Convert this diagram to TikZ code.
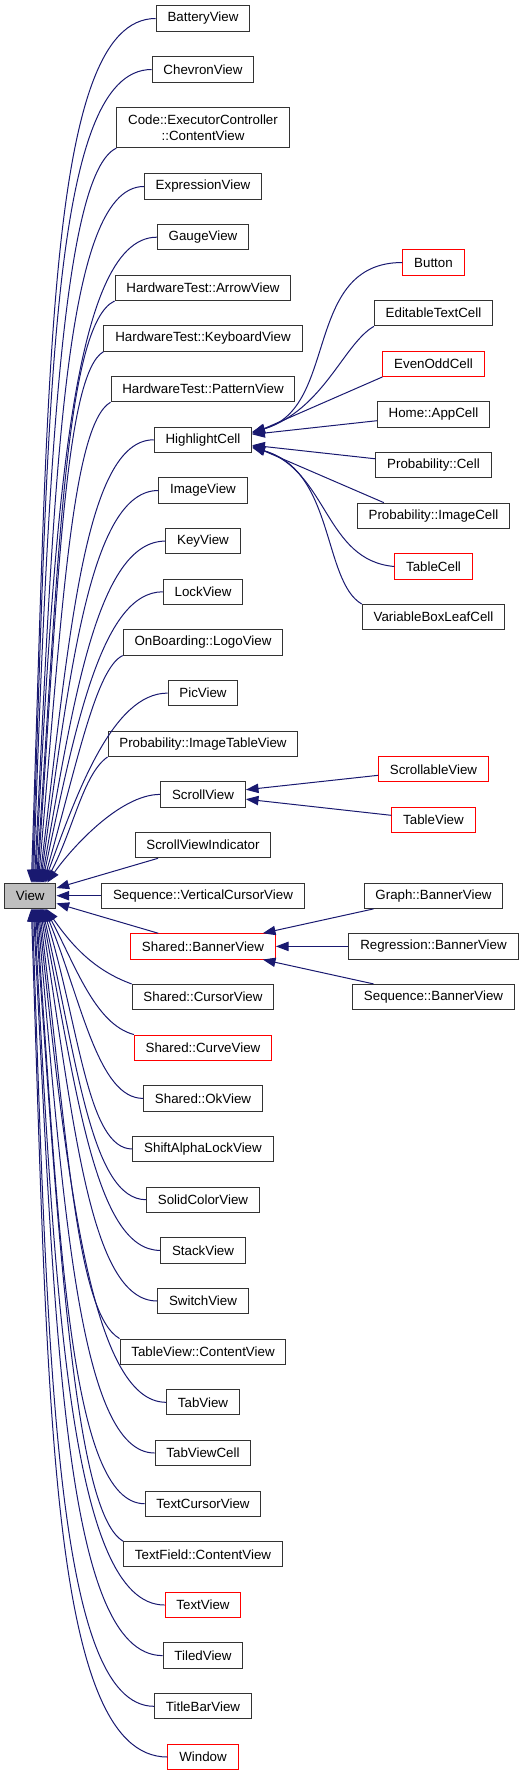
\documentclass[tikz,border=0pt]{standalone}
\usepackage{fontspec}
\setmainfont{Liberation Sans}
\usepackage{tikz}
\usetikzlibrary{arrows.meta,calc}
\definecolor{cE}{HTML}{191970}
\definecolor{cG}{HTML}{BFBFBF}
\definecolor{cR}{HTML}{FF0000}
\tikzset{
  cls/.style={draw=black!80,fill=white,line width=.75pt,minimum height=19pt,
              inner xsep=8.5pt,inner ysep=2pt,align=center,
              font=\fontsize{10}{11.5}\selectfont},
  clsred/.style={cls,draw=cR},
  base/.style={cls,fill=cG},
  inh/.style={-{Triangle[length=9.5pt,width=7pt]},line width=.75pt,cE},
}

\begin{document}
\begin{tikzpicture}[x=.75pt,y=.75pt]
  \useasboundingbox (0,0) rectangle (523,-1776);
  % base class
  \node[base] (view) at (30.3,-895.7) {View};
  % direct subclasses of View
  \node[cls] (battery) at (203,-18.5) {BatteryView};
  \node[cls] (chevron) at (203,-69.5) {ChevronView};
  \node[cls,minimum height=30pt] (code) at (203,-127.7) {Code::ExecutorController\\::ContentView};
  \node[cls] (expression) at (203,-186.5) {ExpressionView};
  \node[cls] (gauge) at (203,-237.2) {GaugeView};
  \node[cls] (hwarrow) at (203,-287.8) {HardwareTest::ArrowView};
  \node[cls] (hwkeyboard) at (203,-338.5) {HardwareTest::KeyboardView};
  \node[cls] (hwpattern) at (203,-389.1) {HardwareTest::PatternView};
  \node[cls] (highlight) at (203,-439.8) {HighlightCell};
  \node[cls] (image) at (203,-490.5) {ImageView};
  \node[cls] (key) at (203,-541.1) {KeyView};
  \node[cls] (lock) at (203,-591.8) {LockView};
  \node[cls] (logo) at (203,-642.4) {OnBoarding::LogoView};
  \node[cls] (pic) at (203,-693.1) {PicView};
  \node[cls] (imgtable) at (203,-743.8) {Probability::ImageTableView};
  \node[cls] (scroll) at (203,-794.4) {ScrollView};
  \node[cls] (scrollind) at (203,-845.1) {ScrollViewIndicator};
  \node[cls] (seqcursor) at (203,-895.7) {Sequence::VerticalCursorView};
  \node[clsred] (banner) at (203,-946.4) {Shared::BannerView};
  \node[cls] (cursor) at (203,-997.1) {Shared::CursorView};
  \node[clsred] (curve) at (203,-1047.7) {Shared::CurveView};
  \node[cls] (ok) at (203,-1098.4) {Shared::OkView};
  \node[cls] (shiftalpha) at (203,-1149) {ShiftAlphaLockView};
  \node[cls] (solid) at (203,-1199.7) {SolidColorView};
  \node[cls] (stack) at (203,-1250.4) {StackView};
  \node[cls] (switch) at (203,-1301) {SwitchView};
  \node[cls] (tablecontent) at (203,-1351.7) {TableView::ContentView};
  \node[cls] (tab) at (203,-1402.3) {TabView};
  \node[cls] (tabcell) at (203,-1453) {TabViewCell};
  \node[cls] (textcursor) at (203,-1503.7) {TextCursorView};
  \node[cls] (textfield) at (203,-1554.3) {TextField::ContentView};
  \node[clsred] (textview) at (203,-1605) {TextView};
  \node[cls] (tiled) at (203,-1655.6) {TiledView};
  \node[cls] (titlebar) at (203,-1706.3) {TitleBarView};
  \node[clsred] (window) at (203,-1757) {Window};
  % second level
  \node[clsred] (button) at (433.5,-262.5) {Button};
  \node[cls] (editable) at (433.5,-313.2) {EditableTextCell};
  \node[clsred] (evenodd) at (433.5,-363.8) {EvenOddCell};
  \node[cls] (appcell) at (433.5,-414.5) {Home::AppCell};
  \node[cls] (probcell) at (433.5,-465.2) {Probability::Cell};
  \node[cls] (probimg) at (433.5,-515.8) {Probability::ImageCell};
  \node[clsred] (tablecell) at (433.5,-566.5) {TableCell};
  \node[cls] (leafcell) at (433.5,-617.2) {VariableBoxLeafCell};
  \node[clsred] (scrollable) at (433.5,-769.3) {ScrollableView};
  \node[clsred] (tableview) at (433.5,-820) {TableView};
  \node[cls] (graphbanner) at (433.5,-895.7) {Graph::BannerView};
  \node[cls] (regbanner) at (433.5,-946.4) {Regression::BannerView};
  \node[cls] (seqbanner) at (433.5,-997.1) {Sequence::BannerView};

  % edges into View from above
  \foreach \n/\s/\o/\e/\i in {battery/west/180:110/1/88:500,
      chevron/west/180:103/2/88:470, code/south west/205:60/3/88:404,
      expression/west/180:83/4/87:383, gauge/west/180:87/5/87:355,
      hwarrow/south west/205:55/6/86:320, hwkeyboard/south west/210:45/7/86:290,
      hwpattern/south west/210:45/8/85:265, highlight/west/180:70/9/83:243,
      image/west/180:68/10/82:215, key/west/180:68/11/80:185,
      lock/west/180:62/12/78:155, logo/south west/205:30/13/74:120,
      pic/west/180:55/14/70:95, imgtable/south west/215:30/15/62:60,
      scroll/west/180:41/17/55:40}
    \draw[inh] (\n.\s) .. controls +(\o) and +(\i) .. ($(view.north)+(\e,0)$);
  % edges into View from below
  \foreach \n/\s/\o/\e/\i in {cursor/north west/160:40/16/-55:45,
      curve/north west/165:40/15/-62:65, ok/west/180:45/14/-68:100,
      shiftalpha/west/180:45/13/-73:125, solid/west/180:55/12/-77:155,
      stack/west/180:65/11/-79:185, switch/west/180:68/10/-81:215,
      tablecontent/north west/150:50/9/-83:235, tab/west/180:75/8/-84:270,
      tabcell/west/180:75/7/-85:300, textcursor/west/180:75/6/-86:330,
      textfield/north west/150:55/5/-86:350, textview/west/180:95/4/-87:385,
      tiled/west/180:100/3/-87:415, titlebar/west/180:100/2/-88:445,
      window/west/180:120/1/-88:480}
    \draw[inh] (\n.\s) .. controls +(\o) and +(\i) .. ($(view.south)+(\e,0)$);
  \draw[inh] (scrollind) -- (view);
  \draw[inh] (seqcursor) -- (view);
  \draw[inh] (banner) -- (view);

  % HighlightCell subclasses
  \draw[inh] (button.west) .. controls +(-100,0) and +(15:90) .. ($(highlight.east)+(0,8)$);
  \draw[inh] (editable.south west) .. controls +(210:35) and +(18:75) .. ($(highlight.east)+(0,7)$);
  \draw[inh] (evenodd.south west) -- ($(highlight.east)+(0,6)$);
  \draw[inh] (appcell) -- (highlight);
  \draw[inh] (probcell) -- (highlight);
  \draw[inh] ($(probimg.north west)+(27,0)$) -- ($(highlight.east)+(0,-6)$);
  \draw[inh] (tablecell.west) .. controls +(175:70) and +(-18:80) .. ($(highlight.east)+(0,-7)$);
  \draw[inh] (leafcell.north west) .. controls +(150:45) and +(-15:85) .. ($(highlight.east)+(0,-8)$);
  % ScrollView and Shared::BannerView subclasses
  \draw[inh] (scrollable) -- (scroll);
  \draw[inh] (tableview) -- (scroll);
  \draw[inh] (graphbanner) -- (banner);
  \draw[inh] (regbanner) -- (banner);
  \draw[inh] (seqbanner) -- (banner);
\end{tikzpicture}
\end{document}
